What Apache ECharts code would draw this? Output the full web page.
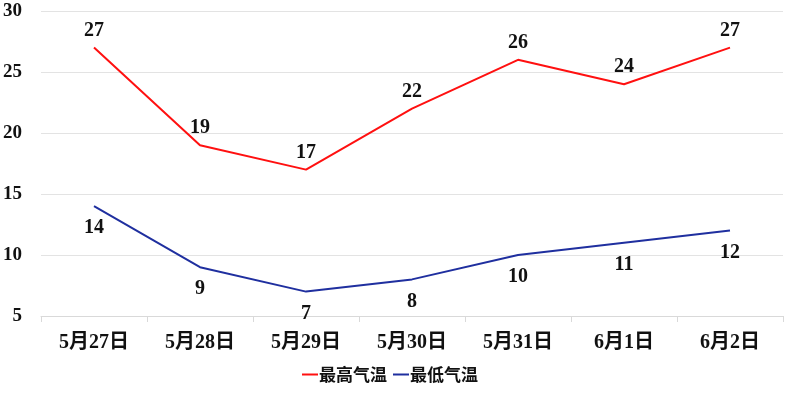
<!DOCTYPE html>
<html>
<head>
<meta charset="utf-8">
<script src="https://cdn.jsdelivr.net/npm/echarts@6/dist/echarts.min.js"></script>
<style>html,body{margin:0;padding:0;background:#fff;}#c{width:800px;height:397px;}</style>
</head>
<body>
<div id="c"></div>
<script>
const categories = ['5月27日','5月28日','5月29日','5月30日','5月31日','6月1日','6月2日'];
const highTemps = [27, 19, 17, 22, 26, 24, 27];
const lowTemps = [14, 9, 7, 8, 10, 11, 12];
const seriesNames = ['最高气温', '最低气温'];

const serif = '"Liberation Serif", "Noto Sans CJK SC", serif';
const chart = echarts.init(document.getElementById('c'), null, {renderer: 'canvas'});
chart.setOption({
  animation: false,
  backgroundColor: '#fff',
  grid: {left: 39, right: 17, top: 11, bottom: 81, containLabel: false},
  legend: {
    bottom: 9, left: 297,
    itemWidth: 16, itemHeight: 2, itemGap: 6,
    icon: 'rect',
    textStyle: {fontFamily: '"Noto Sans CJK SC", sans-serif', fontSize: 17, fontWeight: 'bold', color: '#111', padding: [0,0,0,-4]},
    data: seriesNames
  },
  xAxis: {
    type: 'category', data: categories, boundaryGap: true,
    axisLine: {lineStyle: {color: '#d9d9d9'}},
    axisTick: {show: true, length: 6, lineStyle: {color: '#d9d9d9'}},
    axisLabel: {margin: 17, color: '#111', fontFamily: serif, fontWeight: 'bold', fontSize: 20, interval: 0}
  },
  yAxis: {
    type: 'value', min: 5, max: 30, interval: 5,
    axisLine: {show: false}, axisTick: {show: false},
    splitLine: {lineStyle: {color: '#e3e3e3'}},
    axisLabel: {margin: 19, color: '#111', fontFamily: serif, fontWeight: 'bold', fontSize: 19}
  },
  series: [
    {
      name: seriesNames[0], type: 'line', data: highTemps, symbol: 'circle', symbolSize: 0, showSymbol: true,
      lineStyle: {color: '#ff1010', width: 2}, itemStyle: {color: '#ff1010'},
      label: {show: true, position: 'top', distance: 7, color: '#111', fontFamily: serif, fontWeight: 'bold', fontSize: 20}
    },
    {
      name: seriesNames[1], type: 'line', data: lowTemps, symbol: 'circle', symbolSize: 0, showSymbol: true,
      lineStyle: {color: '#1f2f9f', width: 2}, itemStyle: {color: '#1f2f9f'},
      label: {show: true, position: 'bottom', distance: 12, color: '#111', fontFamily: serif, fontWeight: 'bold', fontSize: 20}
    }
  ]
});
</script>
</body>
</html>
